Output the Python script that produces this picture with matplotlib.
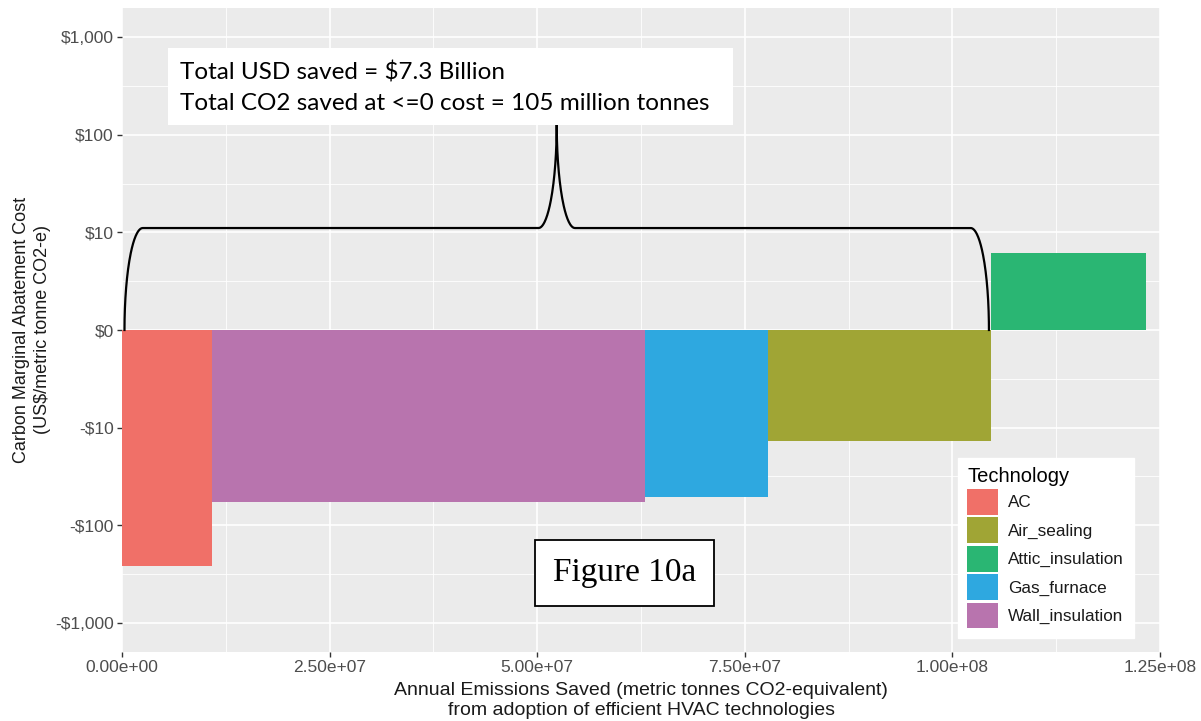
import numpy as np
import matplotlib.pyplot as plt
from matplotlib.patches import Patch, Rectangle

# bars, ordered by abatement cost
technologies = ["AC", "Wall_insulation", "Gas_furnace", "Air_sealing", "Attic_insulation"]
emissions_saved = [1.08e7, 5.22e7, 1.48e7, 2.69e7, 1.86e7]   # metric tonnes CO2-e / year
abatement_cost = [-262, -58, -52, -13.8, 6.0]               # US$ per tonne

legend_order = ["AC", "Air_sealing", "Attic_insulation", "Gas_furnace", "Wall_insulation"]
tech_colors = {
    "AC": "#F07068",
    "Air_sealing": "#A0A535",
    "Attic_insulation": "#2AB673",
    "Gas_furnace": "#2EA8E0",
    "Wall_insulation": "#B874AE",
}

y_ticks = [-1000, -100, -10, 0, 10, 100, 1000]
y_tick_labels = ["-$1,000", "-$100", "-$10", "$0", "$10", "$100", "$1,000"]
x_ticks = [0, 2.5e7, 5e7, 7.5e7, 1e8, 1.25e8]

annotation_lines = ["Total USD saved = $7.3 Billion",
                    "Total CO2 saved at <=0 cost = 105 million tonnes"]
figure_label = "Figure 10a"

# brace over the zero/negative cost part
brace_height = 11
brace_peak = 130


# ggplot-like pseudo log (sigma = 1, base 10)
def fwd(y):
    return np.arcsinh(np.asarray(y, dtype=float) / 2) / np.log(10)


def inv(t):
    return 2 * np.sinh(np.asarray(t, dtype=float) * np.log(10))


plt.rcParams['font.family'] = ['Liberation Sans', 'DejaVu Sans']

fig = plt.figure(figsize=(12.01, 7.21), dpi=100)
ax = fig.add_axes([122 / 1201, 1 - 652 / 721, 1038 / 1201, 644 / 721])
ax.set_facecolor("#EBEBEB")
ax.set_yscale("function", functions=(fwd, inv))

lefts = np.concatenate([[0], np.cumsum(emissions_saved)[:-1]])
for tech, left, w, c in zip(technologies, lefts, emissions_saved, abatement_cost):
    ax.bar(left, c, width=w, align="edge", color=tech_colors[tech], zorder=2, linewidth=0)

# curly brace, built in transformed y units
zero_cost_total = sum(w for w, c in zip(emissions_saved, abatement_cost) if c <= 0)
inset = 3e5
corner = 2.2e6
x0, x1 = inset, zero_cost_total - inset
xm = (x0 + x1) / 2
th = float(fwd(brace_height))
tt = float(fwd(brace_peak))
a = np.linspace(0, np.pi / 2, 60)
bx = np.concatenate([
    x0 + corner * (1 - np.cos(a)),
    xm - corner + corner * np.sin(a),
    xm + corner * (1 - np.cos(a)),
    (x1 - corner * (1 - np.cos(a)))[::-1],
])
bt = np.concatenate([
    th * np.sin(a),
    tt - (tt - th) * np.cos(a),
    th + (tt - th) * (1 - np.sin(a)),
    (th * np.sin(a))[::-1],
])
ax.plot(bx, inv(bt), color="black", lw=1.6, zorder=3)

ax.set_xlim(0, 1.25e8)
lim = float(inv(3.3))
ax.set_ylim(-lim, lim)

ax.set_xticks(x_ticks)
ax.set_xticklabels([f"{v:.2e}" for v in x_ticks])
ax.set_xticks([v + 1.25e7 for v in x_ticks[:-1]], minor=True)
ax.set_yticks(y_ticks)
ax.set_yticklabels(y_tick_labels)
ax.set_yticks(inv([-2.5, -1.5, -0.5, 0.5, 1.5, 2.5]), minor=True)

ax.grid(which="major", color="white", lw=1.2, zorder=0)
ax.grid(which="minor", color="white", lw=0.6, zorder=0)
ax.set_axisbelow(True)
for s in ax.spines.values():
    s.set_visible(False)
ax.tick_params(which="major", length=3.5, width=1, color="#333333",
               labelsize=12.5, labelcolor="#4D4D4D", pad=2.5)
ax.tick_params(which="minor", length=0)

ax.set_xlabel("Annual Emissions Saved (metric tonnes CO2-equivalent)\n"
              "from adoption of efficient HVAC technologies",
              fontsize=14, color="#1A1A1A", linespacing=1.2, labelpad=5)
ax.set_ylabel("Carbon Marginal Abatement Cost\n(US$/metric tonne CO2-e)",
              fontsize=13, color="#1A1A1A", linespacing=1.25, labelpad=3)

# summary box
ax.add_patch(Rectangle((46 / 1038, (652 - 125) / 644), 565 / 1038, 77 / 644,
                       transform=ax.transAxes, facecolor="white", edgecolor="none", zorder=4))
ax.text(58 / 1038, (652 - 79) / 644, annotation_lines[0], transform=ax.transAxes,
        fontsize=17.5, family="Lato", va="baseline", ha="left", zorder=5)
ax.text(58 / 1038, (652 - 110) / 644, annotation_lines[1], transform=ax.transAxes,
        fontsize=17.5, family="Lato", va="baseline", ha="left", zorder=5)

# figure label box
ax.add_patch(Rectangle((413 / 1038, 46 / 644), 179 / 1038, 66 / 644, transform=ax.transAxes,
                       facecolor="white", edgecolor="black", lw=1.3, zorder=4))
ax.text(502.5 / 1038, 79 / 644, figure_label, transform=ax.transAxes, fontsize=24,
        family="Liberation Serif", ha="center", va="center", zorder=5)

handles = [Patch(facecolor=tech_colors[t], edgecolor="none", label=t) for t in legend_order]
leg = fig.legend(handles=handles, title="Technology", loc="upper left",
                 bbox_to_anchor=(958 / 1201, 1 - 458 / 721), fontsize=12.3,
                 title_fontsize=14.5, frameon=True, fancybox=False, framealpha=1,
                 edgecolor="white", handlelength=1.8, handleheight=1.95,
                 handletextpad=0.6, labelspacing=0.15, borderpad=0.55,
                 borderaxespad=0)
leg._legend_box.align = "left"
for txt in leg.get_texts():
    txt.set_color("#1A1A1A")

fig.savefig("out.png", dpi=100, facecolor="white")
